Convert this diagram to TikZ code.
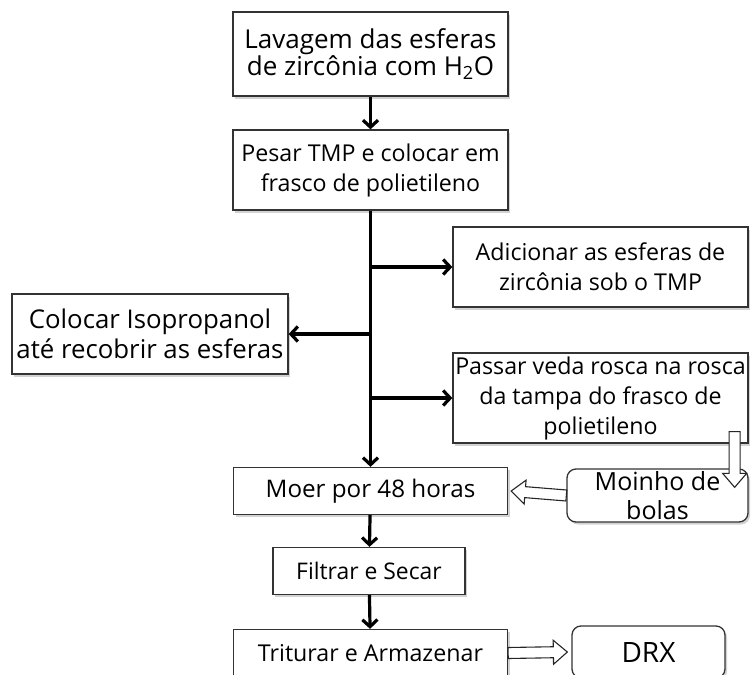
\documentclass[tikz,border=0pt]{standalone}
\usepackage{fontspec}
\setmainfont{Open Sans}
\usetikzlibrary{arrows.meta,calc,shadows}

\newcommand{\txtnorm}{\fontsize{23.2}{30}\selectfont}
\newcommand{\txtbig}{\fontsize{25.8}{30}\selectfont}

% white block arrow between two points
\newcommand{\hollowarrow}[2]{%
  \path let \p1=(#1), \p2=(#2),
    \n1={atan2(\y2-\y1,\x2-\x1)}, \n2={veclen(\x2-\x1,\y2-\y1)} in
    \pgfextra{\xdef\harx{\x1}\xdef\hary{\y1}\xdef\hara{\n1}\xdef\harl{\n2}};
  \draw[hollow, shift={(\harx,\hary)}, rotate=\hara]
    (0pt,5.5pt) -- (\harl-14pt,5.5pt) -- (\harl-14pt,12pt) -- (\harl,0pt)
    -- (\harl-14pt,-12pt) -- (\harl-14pt,-5.5pt) -- (0pt,-5.5pt) -- cycle;
}

\tikzset{
  stepbox/.style={draw=black!80, line width=1.3pt, align=center,
    inner sep=0pt, font=\txtnorm, fill=white,
    drop shadow={shadow xshift=2pt, shadow yshift=-2.5pt, fill=black!35}},
  roundbox/.style={stepbox, rounded corners=9pt},
  flow/.style={line width=3.2pt, -{Straight Barb[length=7pt,width=15pt]}},
  hollow/.style={draw=black!85, line width=1.1pt, fill=white, line join=miter},
}

\begin{document}
\begin{tikzpicture}[x=1pt, y=-1pt]
  \useasboundingbox (0,0) rectangle (753,675);

  % main column
  \node[stepbox, minimum width=275pt, minimum height=84pt, font=\fontsize{26}{27}\selectfont] (wash) at (370.5,54)
    {Lavagem das esferas\\de zircônia com H\textsubscript{2}O};
  \node[stepbox, minimum width=275pt, minimum height=80pt] (weigh) at (370.5,170)
    {Pesar TMP e colocar em\\frasco de polietileno};
  \node[stepbox, minimum width=274pt, minimum height=47pt, font=\fontsize{24.2}{30}\selectfont] (mill) at (370.5,491)
    {Moer por 48 horas};
  \node[stepbox, minimum width=192pt, minimum height=47pt, font=\fontsize{22.9}{30}\selectfont] (dry) at (369,571)
    {Filtrar e Secar};
  \node[stepbox, minimum width=274pt, minimum height=47pt] (store) at (370.5,653)
    {Triturar e Armazenar};

  % side steps
  \node[stepbox, minimum width=295pt, minimum height=80pt] (addballs) at (600.5,267)
    {Adicionar as esferas de\\zircônia sob o TMP};
  \node[stepbox, minimum width=276pt, minimum height=80pt, font=\txtbig] (iso) at (150,334)
    {Colocar Isopropanol\\até recobrir as esferas};
  \node[stepbox, minimum width=295pt, minimum height=90pt] (seal) at (600.5,398)
    {Passar veda rosca na rosca\\da tampa do frasco de\\polietileno};

  % equipment
  \node[roundbox, minimum width=181pt, minimum height=53pt,
    font=\fontsize{25}{29}\selectfont] (ballmill) at (657.5,495.5)
    {Moinho de\\bolas};
  \node[roundbox, minimum width=153pt, minimum height=52pt, font=\fontsize{28}{30}\selectfont] (drx) at (648.5,652)
    {DRX};

  % connectors
  \draw[flow] (wash) -- (weigh);
  \draw[flow] (weigh.south) -- (mill.north);
  \draw[flow] (weigh.south |- addballs.west) -- (addballs.west);
  \draw[flow] (weigh.south |- iso.east) -- (iso.east);
  \draw[flow] (weigh.south |- seal.west) -- (seal.west);
  \draw[flow] (mill) -- (dry);
  \draw[flow] (dry) -- (store);

  \coordinate (sealdrop) at ($(seal.south east)+(-14,-12)$);
  \coordinate (millin) at ($(sealdrop |- ballmill.north)+(0,19)$);
  \hollowarrow{sealdrop}{millin}
  \hollowarrow{ballmill.west}{$(mill.east)+(3,0)$}
  \hollowarrow{store.east}{$(drx.west)+(-4,0)$}
\end{tikzpicture}
\end{document}
